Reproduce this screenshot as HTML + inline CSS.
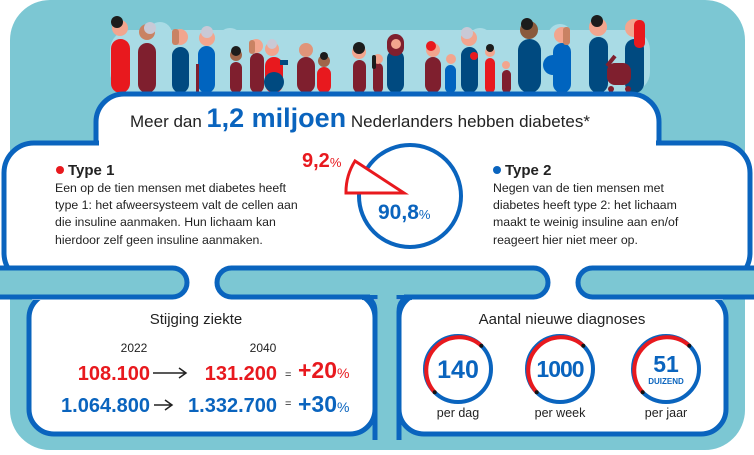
<!DOCTYPE html>
<html><head><meta charset="utf-8"><style>
html,body{margin:0;padding:0;background:#fff;}
svg{display:block;}
text{font-family:"Liberation Sans",sans-serif;}
</style></head><body>
<svg width="754" height="455" viewBox="0 0 754 455" xmlns="http://www.w3.org/2000/svg">
<rect x="10" y="0" width="735" height="450" rx="40" fill="#7cc7d3"/>
<g fill="#a9dbe5">
<rect x="110" y="30" width="540" height="62" rx="20"/>
<circle cx="160" cy="34" r="12"/><circle cx="230" cy="40" r="12"/><circle cx="290" cy="44" r="12"/><circle cx="340" cy="48" r="10"/><circle cx="430" cy="44" r="12"/><circle cx="480" cy="40" r="12"/><circle cx="560" cy="36" r="12"/>
</g>
<g>
<rect x="111" y="39" width="19" height="54" rx="9.5" fill="#e8191e"/><circle cx="120" cy="28" r="8" fill="#f2a58e"/><circle cx="117" cy="22" r="6" fill="#1c1c1c"/>
<rect x="138" y="43" width="18" height="50" rx="9" fill="#7f1f2e"/><circle cx="147" cy="32" r="8" fill="#c98263"/><circle cx="150" cy="28" r="6" fill="#c9c9d6"/>
<rect x="172" y="47" width="17" height="46" rx="8.5" fill="#004a80"/><circle cx="180" cy="37" r="8" fill="#f2a58e"/><rect x="172" y="29" width="7" height="16" rx="3" fill="#c98263"/>
<rect x="198" y="46" width="17" height="47" rx="8.5" fill="#0064bf"/><circle cx="207" cy="38" r="8" fill="#f2a58e"/><circle cx="207" cy="32" r="6" fill="#c9c9d6"/><rect x="196" y="64" width="3" height="30" fill="#7f1f2e"/>
<rect x="230" y="62" width="12" height="31" rx="6" fill="#7f1f2e"/><circle cx="236" cy="55" r="6" fill="#a0664a"/><circle cx="236" cy="51" r="5" fill="#1c1c1c"/>
<rect x="250" y="53" width="14" height="40" rx="7" fill="#7f1f2e"/><circle cx="256" cy="46" r="7" fill="#f2a58e"/><rect x="249" y="40" width="6" height="14" rx="3" fill="#c98263"/>
<rect x="265" y="57" width="18" height="36" rx="9" fill="#e8191e"/><circle cx="272" cy="49" r="7" fill="#f2a58e"/><circle cx="272" cy="44" r="5" fill="#c9c9d6"/><circle cx="274" cy="82" r="10" fill="#004a80"/><rect x="280" y="60" width="8" height="5" fill="#004a80"/>
<rect x="297" y="57" width="18" height="36" rx="9" fill="#7f1f2e"/><circle cx="306" cy="50" r="7" fill="#e0957a"/>
<rect x="317" y="67" width="14" height="26" rx="7" fill="#e8191e"/><circle cx="324" cy="61" r="6" fill="#a0664a"/><circle cx="324" cy="56" r="4" fill="#1c1c1c"/>
<rect x="353" y="60" width="13" height="33" rx="6.5" fill="#7f1f2e"/><circle cx="359" cy="52" r="7" fill="#f2a58e"/><circle cx="359" cy="48" r="6" fill="#1c1c1c"/>
<rect x="373" y="63" width="10" height="30" rx="5" fill="#7f1f2e"/><circle cx="378" cy="59" r="5" fill="#f2a58e"/><rect x="372" y="55" width="4" height="14" rx="2" fill="#1c1c1c"/>
<rect x="387" y="50" width="17" height="43" rx="8.5" fill="#004a80"/><rect x="387" y="34" width="17" height="22" rx="8.5" fill="#7f1f2e"/><circle cx="396" cy="44" r="5" fill="#f2a58e"/>
<rect x="425" y="57" width="16" height="36" rx="8" fill="#7f1f2e"/><circle cx="433" cy="50" r="7" fill="#f2a58e"/><circle cx="431" cy="46" r="5" fill="#e8191e"/>
<rect x="445" y="65" width="11" height="28" rx="5.5" fill="#0064bf"/><circle cx="451" cy="59" r="5" fill="#f2a58e"/>
<rect x="461" y="47" width="17" height="46" rx="8.5" fill="#004a80"/><circle cx="469" cy="38" r="8" fill="#f2a58e"/><circle cx="467" cy="33" r="6" fill="#c9c9d6"/><circle cx="474" cy="56" r="4" fill="#e8191e"/>
<rect x="485" y="58" width="10" height="35" rx="5" fill="#e8191e"/><circle cx="490" cy="52" r="5" fill="#f2a58e"/><circle cx="490" cy="48" r="4" fill="#1c1c1c"/>
<rect x="502" y="70" width="9" height="23" rx="4.5" fill="#7f1f2e"/><circle cx="506" cy="65" r="4" fill="#f2a58e"/>
<rect x="518" y="39" width="23" height="54" rx="11.5" fill="#004a80"/><circle cx="529" cy="30" r="9" fill="#8a5a3c"/><circle cx="527" cy="24" r="6" fill="#1c1c1c"/>
<rect x="553" y="43" width="18" height="50" rx="9" fill="#0064bf"/><circle cx="553" cy="65" r="10" fill="#0064bf"/><circle cx="562" cy="35" r="8" fill="#f2a58e"/><rect x="563" y="27" width="7" height="18" rx="3" fill="#c98263"/>
<rect x="589" y="37" width="19" height="56" rx="9.5" fill="#004a80"/><circle cx="598" cy="27" r="9" fill="#f2a58e"/><circle cx="597" cy="21" r="6" fill="#1c1c1c"/>
<rect x="625" y="39" width="19" height="54" rx="9.5" fill="#004a80"/><circle cx="634" cy="28" r="9" fill="#f2a58e"/><rect x="634" y="20" width="11" height="28" rx="5" fill="#e8191e"/>
<rect x="607" y="63" width="24" height="22" rx="8" fill="#7f1f2e"/><path d="M607 66 L615 56" stroke="#7f1f2e" stroke-width="4"/><circle cx="611" cy="89" r="3" fill="#7f1f2e"/><circle cx="628" cy="89" r="3" fill="#7f1f2e"/>
</g>
<g stroke="#0a64be" stroke-width="5" fill="#fff">
<rect x="96" y="94" width="563" height="100" rx="28"/>
<rect x="4" y="143" width="746" height="140" rx="30"/>
<rect x="29" y="293" width="346" height="141" rx="25"/>
<rect x="399" y="293" width="327" height="141" rx="25"/>
</g>
<g fill="#fff">
<rect x="99" y="97" width="557" height="90" rx="25"/>
<rect x="7" y="146" width="740" height="134" rx="27"/>
<rect x="32" y="255" width="691" height="45"/>
</g>
<g stroke="#0a64be" stroke-width="5" fill="#7cc7d3">
<rect x="-40" y="268" width="227" height="29" rx="14.5"/>
<rect x="217" y="268" width="331" height="29" rx="14.5"/>
<rect x="578" y="268" width="220" height="29" rx="14.5"/>
</g>
<rect x="377.5" y="293" width="19" height="157" fill="#7cc7d3"/>
<path d="M362 297.5 Q375 297.5 375 312 L375 440 M399 440 L399 312 Q399 297.5 412 297.5" stroke="#0a64be" stroke-width="5" fill="none"/>
<rect x="370" y="292" width="34" height="3" fill="#7cc7d3"/>
<text x="130" y="127" font-size="17" fill="#222">Meer dan <tspan font-size="27" font-weight="bold" fill="#0a64be">1,2 miljoen</tspan> Nederlanders hebben diabetes*</text>
<circle cx="60" cy="170" r="4" fill="#e8191e"/>
<text x="68" y="175" font-size="15" font-weight="bold" fill="#222">Type 1</text>
<g font-size="12.3" fill="#222">
<text x="55" y="192">Een op de tien mensen met diabetes heeft</text>
<text x="55" y="209">type 1: het afweersysteem valt de cellen aan</text>
<text x="55" y="226">die insuline aanmaken. Hun lichaam kan</text>
<text x="55" y="244">hierdoor zelf geen insuline aanmaken.</text>
</g>
<circle cx="410" cy="196" r="51" fill="none" stroke="#0a64be" stroke-width="4"/>
<path d="M404 193 L346 193 A58 58 0 0 1 355 161 Z" fill="#fff" stroke="#e8191e" stroke-width="3"/>
<text x="302" y="167" font-size="20" font-weight="bold" fill="#e8191e">9,2<tspan font-size="13" font-weight="normal">%</tspan></text>
<text x="378" y="219" font-size="21" font-weight="bold" fill="#0a64be">90,8<tspan font-size="13" font-weight="normal">%</tspan></text>
<circle cx="497" cy="170" r="4" fill="#0a64be"/>
<text x="505" y="175" font-size="15" font-weight="bold" fill="#222">Type 2</text>
<g font-size="12.3" fill="#222">
<text x="493" y="192">Negen van de tien mensen met</text>
<text x="493" y="209">diabetes heeft type 2: het lichaam</text>
<text x="493" y="226">maakt te weinig insuline aan en/of</text>
<text x="493" y="244">reageert hier niet meer op.</text>
</g>
<text x="196" y="324" font-size="15" fill="#222" text-anchor="middle">Stijging ziekte</text>
<text x="134" y="352" font-size="12" fill="#222" text-anchor="middle">2022</text>
<text x="263" y="352" font-size="12" fill="#222" text-anchor="middle">2040</text>
<text x="150" y="380" font-size="20" font-weight="bold" fill="#e8191e" text-anchor="end">108.100</text>
<path d="M153 373 L185 373 M179 368 L186 373 L179 378" stroke="#222" stroke-width="1.5" fill="none"/>
<text x="277" y="380" font-size="20" font-weight="bold" fill="#e8191e" text-anchor="end">131.200</text>
<text x="285" y="378" font-size="11" fill="#222">=</text>
<text x="298" y="378" font-size="23" font-weight="bold" fill="#e8191e">+20<tspan font-size="14" font-weight="normal">%</tspan></text>
<text x="150" y="412" font-size="20" font-weight="bold" fill="#0a64be" text-anchor="end">1.064.800</text>
<path d="M154 405 L171 405 M165 400 L172 405 L165 410" stroke="#222" stroke-width="1.5" fill="none"/>
<text x="277" y="412" font-size="20" font-weight="bold" fill="#0a64be" text-anchor="end">1.332.700</text>
<text x="285" y="407" font-size="11" fill="#222">=</text>
<text x="298" y="412" font-size="23" font-weight="bold" fill="#0a64be">+30<tspan font-size="14" font-weight="normal">%</tspan></text>
<text x="562" y="324" font-size="15" fill="#222" text-anchor="middle">Aantal nieuwe diagnoses</text>
<g fill="none" stroke-width="4">
<circle cx="458" cy="369" r="33" stroke="#0a64be"/>
<path d="M434.7 392.3 A33 33 0 0 1 481.3 345.7" stroke="#e8191e"/>
<circle cx="560" cy="369" r="33" stroke="#0a64be"/>
<path d="M536.7 392.3 A33 33 0 0 1 583.3 345.7" stroke="#e8191e"/>
<circle cx="666" cy="369" r="33" stroke="#0a64be"/>
<path d="M642.7 392.3 A33 33 0 0 1 689.3 345.7" stroke="#e8191e"/>
</g>
<g fill="#111">
<circle cx="434.7" cy="392.3" r="2"/><circle cx="481.3" cy="345.7" r="2"/>
<circle cx="536.7" cy="392.3" r="2"/><circle cx="583.3" cy="345.7" r="2"/>
<circle cx="642.7" cy="392.3" r="2"/><circle cx="689.3" cy="345.7" r="2"/>
</g>
<text x="458" y="378" font-size="25" font-weight="bold" fill="#0a64be" text-anchor="middle">140</text>
<text x="560" y="377" font-size="23" font-weight="bold" fill="#0a64be" text-anchor="middle" letter-spacing="-1">1000</text>
<text x="666" y="372" font-size="23" font-weight="bold" fill="#0a64be" text-anchor="middle">51</text>
<text x="666" y="384" font-size="8" font-weight="bold" fill="#0a64be" text-anchor="middle">DUIZEND</text>
<text x="458" y="417" font-size="12.5" fill="#222" text-anchor="middle">per dag</text>
<text x="560" y="417" font-size="12.5" fill="#222" text-anchor="middle">per week</text>
<text x="666" y="417" font-size="12.5" fill="#222" text-anchor="middle">per jaar</text>
</svg>
</body></html>
